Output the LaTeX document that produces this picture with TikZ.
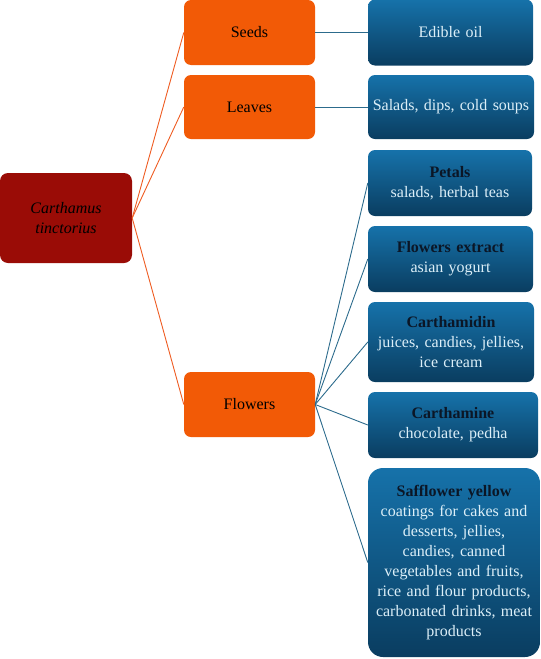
\documentclass[tikz,border=0pt]{standalone}
\usepackage{fontspec}
\setmainfont{Liberation Serif}
\usepackage{xcolor}
\usepackage{tikz}
\usetikzlibrary{calc, positioning}

\definecolor{rootred}{HTML}{9A0C06}
\definecolor{leaforange}{HTML}{F25A06}
\definecolor{bluetop}{HTML}{1672AA}
\definecolor{bluebot}{HTML}{0A3D60}
\definecolor{titleink}{HTML}{0B1626}
\definecolor{useink}{HTML}{DCEFF8}
\definecolor{orangeline}{HTML}{EE5C22}
\definecolor{blueline}{HTML}{2C6B8C}

\tikzset{
    rootbox/.style={fill=rootred, rounded corners=8pt, inner sep=0pt,
        minimum width=132pt, minimum height=90pt, text width=120pt,
        align=center, font=\fontsize{16}{20}\selectfont\itshape},
    partbox/.style={fill=leaforange, rounded corners=7pt, inner sep=0pt,
        minimum width=131pt, minimum height=65pt, text width=120pt,
        align=center, text=black, font=\fontsize{16}{20}\selectfont},
    usebox/.style={top color=bluetop, bottom color=bluebot, rounded corners=7pt,
        inner sep=0pt, minimum height=66pt, text width=#1,
        align=center, text=useink, font=\fontsize{16}{20}\selectfont},
    usebox/.default=165pt,
    tie/.style={orangeline, line width=0.9pt},
    twig/.style={blueline, line width=0.9pt}
}
\newcommand{\usetitle}[1]{{\color{titleink}\textbf{#1}}}

\begin{document}
\begin{tikzpicture}[x=1pt, y=-1pt]
    % 1. Khung trang
    \useasboundingbox (0,0) rectangle (541,659);

    % 2. Gốc và các bộ phận
    \node[rootbox] (root) at (66,218) {Carthamus\\tinctorius};
    \node[partbox] (seeds) at (249.5,32.5) {Seeds};
    \node[partbox, minimum height=64pt] (leaves) at (249.5,107) {Leaves};
    \node[partbox] (flowers) at (249.5,404.5) {Flowers};

    % 3. Công dụng
    \node[usebox] (oil) at (450.5,32.5) {Edible oil};
    \node[usebox=166pt, minimum height=64pt] (salads) at (451,107) {Salads, dips, cold soups};
    \node[usebox=164pt] (petals) at (450,183) {\usetitle{Petals}\\salads, herbal teas};
    \node[usebox] (extract) at (450.5,259) {\usetitle{Flowers extract}\\asian yogurt};
    \node[usebox=166pt, minimum height=80pt] (carthamidin) at (451,342)
        {\usetitle{Carthamidin}\\juices, candies, jellies,\\ice cream};
    \node[usebox=170pt] (carthamine) at (453,425) {\usetitle{Carthamine}\\chocolate, pedha};
    \node[usebox=172pt, minimum height=189pt, rounded corners=15pt] (safflower) at (454,562.5)
        {\usetitle{Safflower yellow}\\coatings for cakes and\\desserts, jellies,\\candies, canned\\
        vegetables and fruits,\\rice and flour products,\\carbonated drinks, meat\\products};

    % 4. Đường nối
    \foreach \p in {seeds, leaves, flowers} {
        \draw[tie] (root.east) -- (\p.west);
    }
    \draw[twig] (seeds.east) -- (oil.west);
    \draw[twig] (leaves.east) -- (salads.west);
    \foreach \u in {petals, extract, carthamidin, carthamine, safflower} {
        \draw[twig] (flowers.east) -- (\u.west);
    }
\end{tikzpicture}
\end{document}
